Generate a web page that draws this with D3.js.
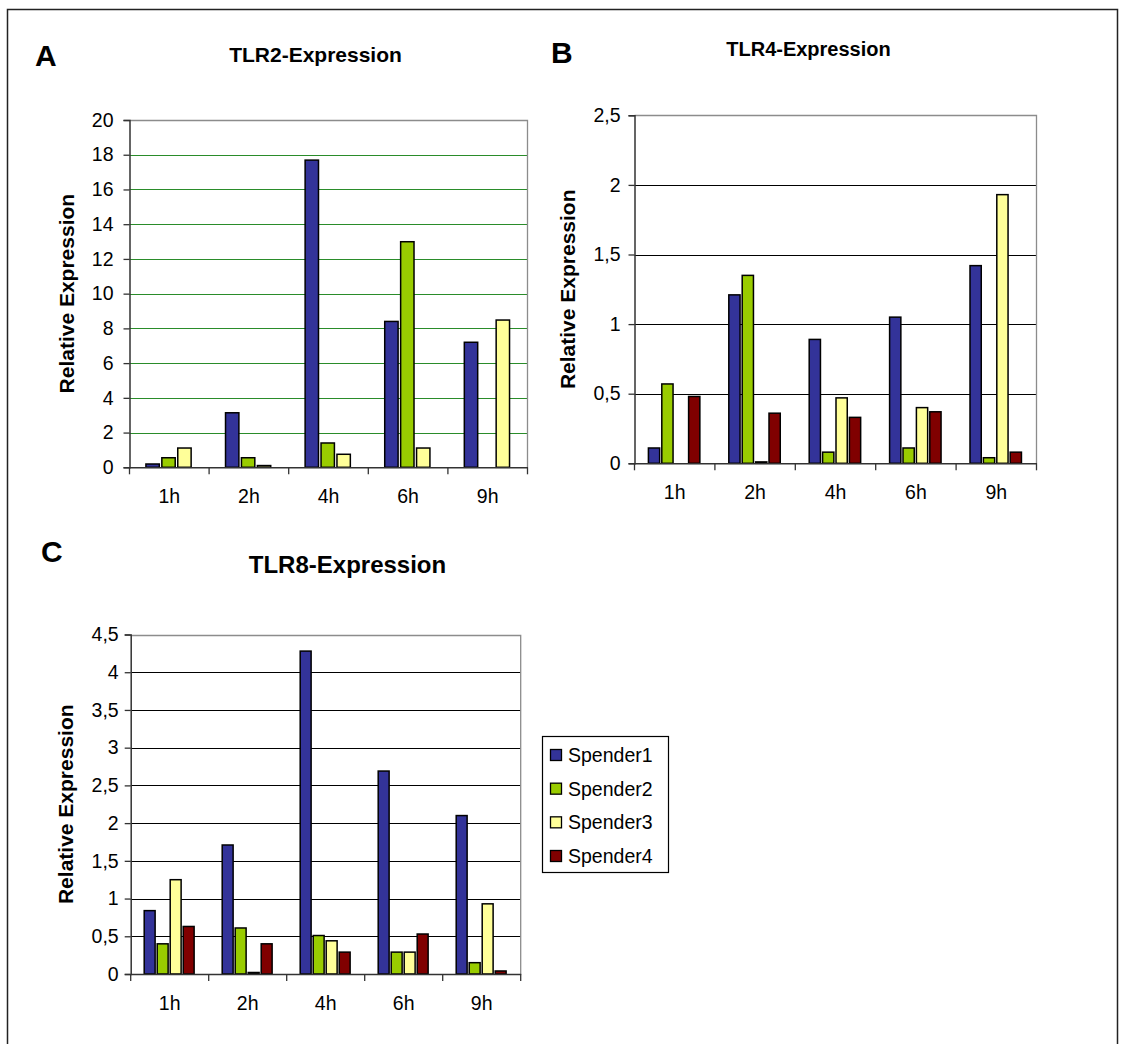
<!DOCTYPE html>
<html>
<head>
<meta charset="utf-8">
<script src="https://cdn.jsdelivr.net/npm/d3@7"></script>
<style>
  html, body { margin: 0; padding: 0; background: #fff; }
  svg { display: block; font-family: "Liberation Sans", Arial, sans-serif; }
</style>
</head>
<body>
<svg id="chart" width="1122" height="1044"></svg>
<script>
// ---------------- data ----------------
const categories = ["1h", "2h", "4h", "6h", "9h"];
const seriesNames = ["Spender1", "Spender2", "Spender3", "Spender4"];
const seriesColors = ["#333399", "#99CC00", "#FFFF99", "#800000"];

// TLR2 (panel A) - only Spender1..3
const tlr2_s1 = [0.19, 3.14, 17.69, 8.40, 7.20];
const tlr2_s2 = [0.55, 0.55, 1.40, 12.99, null];
const tlr2_s3 = [1.11, 0.10, 0.75, 1.11, 8.48];

// TLR4 (panel B)
const tlr4_s1 = [0.11, 1.21, 0.89, 1.05, 1.42];
const tlr4_s2 = [0.57, 1.35, 0.08, 0.11, 0.04];
const tlr4_s3 = [null, 0.01, 0.47, 0.40, 1.93];
const tlr4_s4 = [0.48, 0.36, 0.33, 0.37, 0.08];

// TLR8 (panel C)
const tlr8_s1 = [0.84, 1.71, 4.28, 2.69, 2.10];
const tlr8_s2 = [0.40, 0.61, 0.51, 0.29, 0.15];
const tlr8_s3 = [1.25, 0.02, 0.44, 0.29, 0.93];
const tlr8_s4 = [0.63, 0.40, 0.29, 0.53, 0.04];

const tlr2Ticks = [0, 2, 4, 6, 8, 10, 12, 14, 16, 18, 20];
const tlr4Ticks = [0, 0.5, 1, 1.5, 2, 2.5];
const tlr8Ticks = [0, 0.5, 1, 1.5, 2, 2.5, 3, 3.5, 4, 4.5];

const panelLetters = ["A", "B", "C"];
const panelTitles = ["TLR2-Expression", "TLR4-Expression", "TLR8-Expression"];
const yAxisTitle = "Relative Expression";

// ---------------- drawing ----------------
const svg = d3.select("#chart");
const FONT = '"Liberation Sans", Arial, sans-serif';
const fmt = v => String(v).replace(".", ",");

// outer frame
svg.append("path")
  .attr("d", "M7.5,1050 V9.5 H1117.5 V1050")
  .attr("fill", "none").attr("stroke", "#222").attr("stroke-width", 1.5);

function drawPanel(cfg) {
  const g = svg.append("g");
  const series = cfg.series;
  const y = d3.scaleLinear().domain([0, cfg.max]).range([cfg.base, cfg.top]);
  const x0 = d3.scaleBand().domain(categories).range([cfg.left, cfg.right]).padding(0);
  const x1 = d3.scaleBand().domain(series.map(s => s.name))
    .range([0, x0.bandwidth()]).paddingInner(0).paddingOuter(1);

  // gridlines
  g.append("g").selectAll("line").data(cfg.ticks.filter(t => t > 0 && t < cfg.max)).join("line")
    .attr("x1", cfg.left).attr("x2", cfg.right)
    .attr("y1", d => Math.round(y(d)) + 0.5).attr("y2", d => Math.round(y(d)) + 0.5)
    .attr("stroke", cfg.gridColor).attr("stroke-width", 1);

  // plot area border (top/right)
  g.append("path")
    .attr("d", `M${cfg.left},${Math.round(y(cfg.max)) + 0.5} H${cfg.right} V${cfg.base}`)
    .attr("fill", "none").attr("stroke", "#8c8c8c").attr("stroke-width", 1.3);

  // bars
  const barW = x1.step() * 0.84;
  series.forEach((s, si) => {
    g.append("g").selectAll("rect")
      .data(categories.map((c, i) => ({ c, v: s.values[i] })).filter(d => d.v != null))
      .join("rect")
      .attr("x", d => x0(d.c) + x1(s.name) + 0.5)
      .attr("y", d => y(d.v))
      .attr("width", barW)
      .attr("height", d => cfg.base - y(d.v))
      .attr("fill", s.color)
      .attr("stroke", "#000").attr("stroke-width", 1.5);
  });

  // y axis
  const yAxis = d3.axisLeft(y).tickValues(cfg.ticks).tickFormat(fmt).tickSize(6).tickPadding(cfg.tickPad);
  const ya = g.append("g").attr("transform", `translate(${cfg.left},0)`).call(yAxis);
  ya.select(".domain").attr("stroke", "#333").attr("stroke-width", 1.5);
  ya.selectAll(".tick line").attr("stroke", "#333").attr("stroke-width", 1.3);
  ya.selectAll("text").attr("font-family", FONT).attr("font-size", 19.5).attr("fill", "#000");

  // x axis
  const xAxis = d3.axisBottom(x0).tickSize(0).tickPadding(22);
  const xa = g.append("g").attr("transform", `translate(0,${cfg.base})`).call(xAxis);
  xa.select(".domain").attr("stroke", "#333").attr("stroke-width", 1.5);
  xa.selectAll("text").attr("font-family", FONT).attr("font-size", 19.5).attr("fill", "#000");
  // category separator tick marks
  const bounds = categories.map(c => x0(c)).concat([cfg.right]);
  g.append("g").selectAll("line").data(bounds).join("line")
    .attr("x1", d => d).attr("x2", d => d)
    .attr("y1", cfg.base).attr("y2", cfg.base + 7)
    .attr("stroke", "#333").attr("stroke-width", 1.3);

  // y axis title
  g.append("text")
    .attr("transform", `translate(${cfg.yTitleX},${(cfg.top + cfg.base) / 2}) rotate(-90)`)
    .attr("text-anchor", "middle")
    .attr("font-family", FONT).attr("font-weight", "bold").attr("font-size", 21)
    .text(yAxisTitle);

  // panel title
  g.append("text")
    .attr("x", cfg.titleX).attr("y", cfg.titleY)
    .attr("text-anchor", "middle")
    .attr("font-family", FONT).attr("font-weight", "bold").attr("font-size", cfg.titleSize)
    .text(cfg.title);

  // panel letter
  g.append("text")
    .attr("x", cfg.letterX).attr("y", cfg.letterY)
    .attr("font-family", FONT).attr("font-weight", "bold").attr("font-size", 30)
    .text(cfg.letter);
}

drawPanel({
  letter: panelLetters[0], title: panelTitles[0],
  left: 129.5, right: 527.5, top: 120, base: 467.3, max: 20, ticks: tlr2Ticks,
  gridColor: "#2a8c2a", tickPad: 10,
  series: [
    { name: seriesNames[0], color: seriesColors[0], values: tlr2_s1 },
    { name: seriesNames[1], color: seriesColors[1], values: tlr2_s2 },
    { name: seriesNames[2], color: seriesColors[2], values: tlr2_s3 }
  ],
  yTitleX: 74, titleX: 315.5, titleY: 62, titleSize: 21, letterX: 35, letterY: 66
});

drawPanel({
  letter: panelLetters[1], title: panelTitles[1],
  left: 634.5, right: 1036.5, top: 115.3, base: 463.3, max: 2.5, ticks: tlr4Ticks,
  gridColor: "#000", tickPad: 8,
  series: [
    { name: seriesNames[0], color: seriesColors[0], values: tlr4_s1 },
    { name: seriesNames[1], color: seriesColors[1], values: tlr4_s2 },
    { name: seriesNames[2], color: seriesColors[2], values: tlr4_s3 },
    { name: seriesNames[3], color: seriesColors[3], values: tlr4_s4 }
  ],
  yTitleX: 575, titleX: 808.5, titleY: 56, titleSize: 20, letterX: 551, letterY: 63
});

drawPanel({
  letter: panelLetters[2], title: panelTitles[2],
  left: 130.7, right: 520.7, top: 634.5, base: 974, max: 4.5, ticks: tlr8Ticks,
  gridColor: "#000", tickPad: 6,
  series: [
    { name: seriesNames[0], color: seriesColors[0], values: tlr8_s1 },
    { name: seriesNames[1], color: seriesColors[1], values: tlr8_s2 },
    { name: seriesNames[2], color: seriesColors[2], values: tlr8_s3 },
    { name: seriesNames[3], color: seriesColors[3], values: tlr8_s4 }
  ],
  yTitleX: 73, titleX: 347.5, titleY: 573, titleSize: 24, letterX: 41, letterY: 562
});

// legend
const legend = svg.append("g");
legend.append("rect")
  .attr("x", 542.5).attr("y", 736.5).attr("width", 126).attr("height", 136)
  .attr("fill", "#fff").attr("stroke", "#000").attr("stroke-width", 1.2);
const ly = d3.scalePoint().domain(seriesNames).range([755, 856]);
seriesNames.forEach((name, i) => {
  legend.append("rect")
    .attr("x", 550.5).attr("y", ly(name) - 5.5).attr("width", 11).attr("height", 11)
    .attr("fill", seriesColors[i]).attr("stroke", "#000").attr("stroke-width", 1.3);
  legend.append("text")
    .attr("x", 568).attr("y", ly(name) + 7)
    .attr("font-family", FONT).attr("font-size", 19.5)
    .text(name);
});
</script>
</body>
</html>
